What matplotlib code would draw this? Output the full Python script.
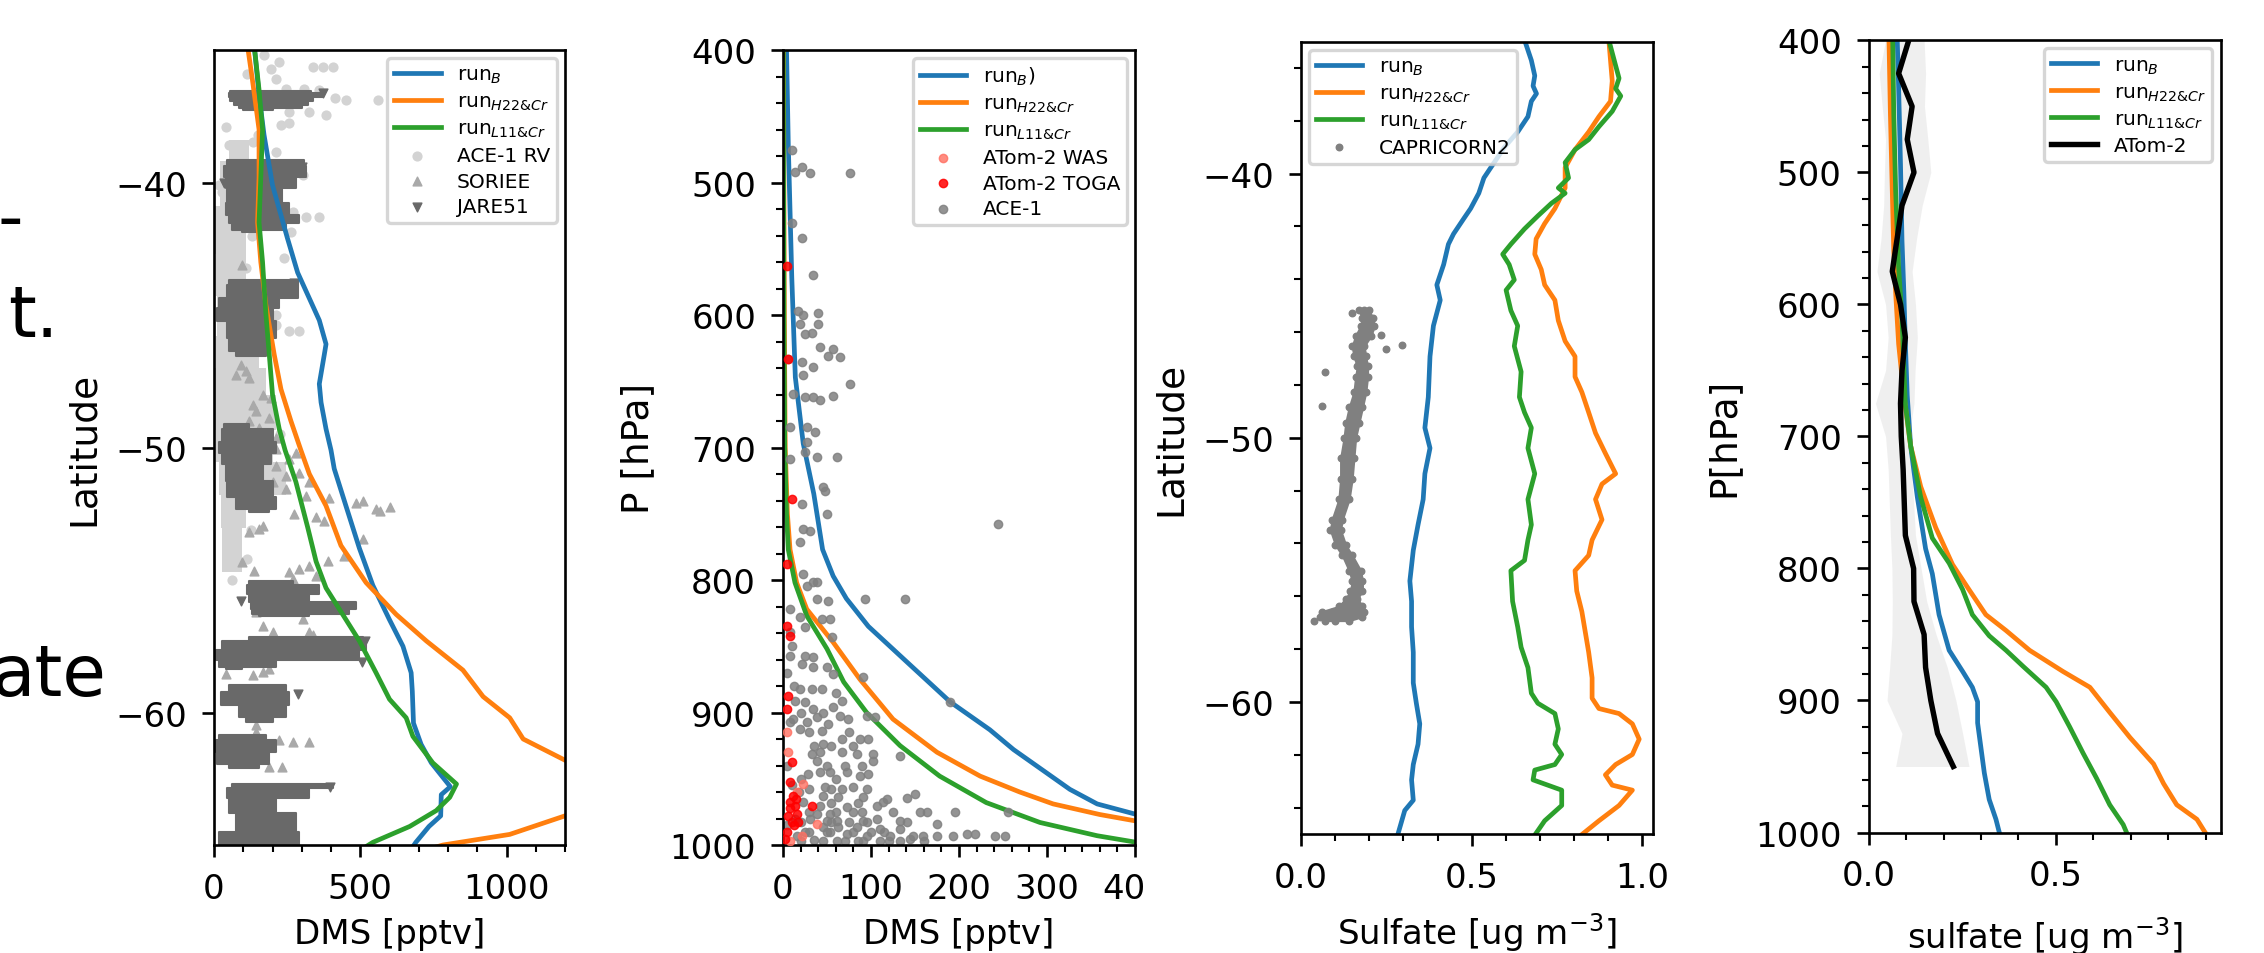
"""
DMS and sulfate profiles over the Southern Ocean: model runs against
ship and aircraft observations, four panels side by side.
"""
import matplotlib
matplotlib.use('Agg')
import matplotlib.pyplot as plt
from matplotlib.ticker import MultipleLocator
from matplotlib.patches import Rectangle

C_B = '#1f77b4'
C_H = '#ff7f0e'
C_L = '#2ca02c'

LAB_B = r'run$_{B}$'
LAB_H = r'run$_{H22&Cr}$'
LAB_L = r'run$_{L11&Cr}$'

# ---------------- panel 1: surface DMS vs latitude ----------------
p1_lat_B = [-35.0, -36.7, -38.2, -40.1, -42.1, -43.4, -45.2, -46.1, -46.5, -47.6, -48.3, -49.3,
            -50.1, -50.8, -52.2, -53.8, -55.2, -56.5, -57.5, -58.5, -59.2, -60.4, -61.2, -61.9,
            -62.8, -63.1, -63.9, -64.3, -64.9, -65.2]
p1_dms_B = [139, 154, 171, 200, 251, 286, 360, 383, 377, 360, 366, 383,
            400, 411, 451, 497, 543, 600, 646, 674, 678, 682, 708, 743,
            808, 777, 775, 735, 690, 672]

p1_lat_H = [-34.8, -36.1, -38.0, -39.8, -41.5, -43.0, -44.6, -46.5, -47.8, -49.0, -50.1, -51.0,
            -52.2, -53.7, -55.1, -56.3, -57.3, -58.4, -59.4, -60.2, -61.0, -61.8, -62.5, -63.3,
            -63.9, -64.6, -65.0, -65.2]
p1_dms_H = [114, 131, 154, 154, 149, 160, 177, 206, 229, 263, 297, 326,
            383, 434, 520, 623, 726, 851, 920, 1011, 1057, 1200, 1320, 1300,
            1200, 1011, 783, 720]

p1_lat_L = [-34.8, -36.5, -38.0, -39.8, -41.5, -43.0, -44.9, -46.5, -48.0, -49.3, -50.1, -51.3,
            -53.0, -54.3, -55.3, -56.3, -57.3, -58.5, -59.5, -60.2, -60.9, -61.9, -62.7, -63.2,
            -63.7, -64.3, -64.9, -65.2]
p1_dms_L = [137, 154, 166, 160, 154, 166, 177, 189, 200, 223, 243, 280,
            320, 349, 383, 440, 497, 554, 600, 657, 680, 748, 829, 806,
            760, 669, 543, 500]

# ACE-1 research vessel: dense core (lat, low, high) and loose points
ace1rv_core_lat = [-38.4, -40.0, -41.8, -43.6, -45.0, -46.6, -47.4, -48.6, -50.1, -51.0, -52.6, -53.5, -54.7]
ace1rv_core_lo = [50, 20, 0, 6, 10, 6, 0, 0, 6, 17, 23, 29, 29]
ace1rv_core_hi = [120, 100, 110, 110, 130, 154, 177, 211, 200, 245, 109, 97, 97]
ace1rv_lat = [-35.64, -35.64, -35.64, -35.89, -35.70, -36.08, -36.46, -36.46, -36.52, -36.83, -36.90,
              -36.90, -37.33, -37.33, -37.46, -37.84, -37.77, -38.84, -38.71, -38.84, -39.72, -39.72,
              -40.09, -40.34, -41.60, -41.10, -41.29, -41.29, -41.85, -42.35, -42.48, -42.85, -43.23,
              -42.85, -43.61, -45.36, -45.61, -45.61, -44.99, -46.87, -47.37, -48.00, -48.63, -48.00,
              -35.20, -35.45, -38.46, -38.59, -37.90, -38.20, -42.00, -44.30, -46.20, -49.50, -51.60,
              -53.10, -54.20, -55.00]
ace1rv_dms = [337, 372, 406, 114, 194, 212, 246, 309, 360, 412, 452,
              560, 257, 326, 383, 229, 257, 69, 97, 212, 252, 303,
              17, 29, 46, 269, 314, 360, 263, 74, 17, 86, 109,
              240, 29, 212, 257, 292, 212, 29, 52, 86, 40, 132,
              172, 223, 132, 52, 40, 150, 130, 140, 175, 225, 150,
              125, 112, 60]

# SORIEE cruise
soriee_lat = [-43.10, -46.87, -47.25, -47.37, -48.00, -48.63, -48.88, -49.63, -47.12, -49.25, -49.63,
              -48.38, -49.76, -49.00, -48.13,
              -50.07, -50.44, -50.95, -51.32, -51.57, -51.89, -52.08, -52.01, -52.33, -52.26, -52.39,
              -52.51, -52.64, -52.76, -52.95, -53.20, -53.08, -53.45, -54.08, -54.27, -54.65, -54.33,
              -54.71, -54.58, -54.46, -54.84, -54.96, -56.21, -56.72, -56.97, -56.47, -56.97, -57.09,
              -58.54, -58.60, -58.47, -58.35, -60.48, -60.73, -61.05, -61.11, -61.11, -62.05, -62.05,
              -50.70, -51.07, -50.19, -51.82, -51.32]
soriee_dms = [97, 92, 74, 120, 166, 143, 189, 212, 109, 154, 97,
              132, 177, 120, 194,
              212, 257, 292, 326, 246, 394, 486, 509, 554, 600, 566,
              274, 349, 377, 166, 120, 154, 509, 446, 389, 137, 97,
              257, 292, 326, 349, 269, 143, 166, 200, 303, 326, 337,
              40, 132, 166, 189, 143, 143, 223, 269, 326, 189, 234,
              212, 246, 280, 314, 200]

# JARE51 cruise: each band of dense samples as (lat, low, high)
jare51_bands = [
    ([-36.55, -36.70, -36.85, -37.00, -37.15, -37.25], [55, 50, 55, 70, 85, 100], [330, 372, 340, 320, 300, 200]),
    ([-39.15, -39.60, -39.97, -40.47, -41.10, -41.35, -41.72, -41.85], [46, 34, 40, 46, 40, 51, 63, 97],
     [309, 314, 280, 234, 257, 292, 246, 160]),
    ([-43.67, -44.10, -44.61, -44.86, -45.61, -46.12, -46.56], [51, 46, 17, 11, 46, 51, 74],
     [286, 286, 223, 200, 211, 189, 177]),
    ([-49.13, -49.50, -50.07, -50.32, -50.95, -51.57, -52.20, -52.45], [34, 29, 17, 29, 40, 46, 74, 120],
     [120, 200, 211, 194, 166, 200, 211, 189]),
    ([-55.02, -55.34, -55.71, -55.96, -56.21, -56.34], [120, 114, 120, 126, 131, 154], [269, 360, 326, 486, 463, 326]),
    ([-57.16, -57.47, -57.85, -58.22, -58.35], [120, 29, 6, 17, 40], [509, 520, 497, 211, 97]),
    ([-58.98, -59.48, -59.98, -60.36], [51, 23, 86, 109], [246, 257, 246, 200]),
    ([-60.86, -61.23, -61.74, -62.11], [17, 6, 11, 51], [177, 211, 189, 154]),
    ([-62.68, -62.99, -63.49, -64.12, -64.93, -65.20], [63, 46, 51, 74, 17, 20], [406, 326, 211, 280, 292, 290]),
]
jare51_lat = [-55.78, -59.29, -36.62, -39.40, -43.80, -57.30, -62.80, -40.00, -58.10]
jare51_dms = [92, 286, 372, 300, 275, 515, 395, 35, 505]

# ---------------- panel 2: DMS vs pressure ----------------
p2_p_B = [400, 471, 572, 647, 697, 735, 777, 797, 814, 835, 862, 892, 913, 928, 958, 969, 977]
p2_dms_B = [4, 6, 10, 14, 23, 35, 45, 57, 72, 97, 141, 190, 235, 262, 326, 357, 402]
p2_p_H = [400, 600, 700, 750, 777, 802, 822, 847, 875, 905, 930, 948, 960, 969, 977, 982]
p2_dms_H = [0.5, 1.5, 2.5, 5, 8, 15.5, 27, 57, 87.5, 125, 175, 224, 269, 307, 360, 402]
p2_p_L = [400, 600, 700, 750, 777, 802, 827, 852, 877, 900, 925, 948, 968, 983, 993, 998]
p2_dms_L = [0.3, 1, 2, 4, 6, 13.6, 27, 50, 69, 95, 133, 178, 231, 292, 357, 402]

atom_was_p = [930.1, 954.0, 984.2, 993.0, 915.0, 996.8, 960.3]
atom_was_dms = [6.1, 23.1, 38.3, 21.2, 4.2, 8.0, 15.5]
atom_toga_p = [633.3, 739.0, 562.8, 787.9, 842.0, 834.5, 887.3, 897.4, 937.6, 952.7, 970.3, 967.8,
               977.9, 982.9, 982.9, 970.3, 995.5, 962.8, 976.6, 985.0, 972.0, 965.0, 990.0]
atom_toga_dms = [6.1, 9.9, 4.2, 4.2, 8.0, 4.2, 6.1, 4.2, 9.9, 8.0, 13.6, 8.0,
                 6.1, 9.9, 17.4, 32.6, 2.3, 11.7, 15.5, 12.0, 8.0, 15.0, 5.0]

ace1_p = [475.5, 492.4, 488.6, 493.1, 493.1, 530.6, 541.9, 569.9, 596.8, 599.8, 598.8, 606.8, 606.8,
          614.4, 613.9, 624.5, 625.7, 630.7, 632.0, 633.3, 635.8, 639.6, 645.1, 652.1, 659.7, 662.2,
          662.2, 664.2, 660.9, 684.8, 684.8, 688.6, 696.2, 707.5, 707.5, 708.7, 703.7, 730.1, 732.6,
          742.7, 750.2, 761.6, 762.8, 771.6, 757.8,
          795.5, 801.8, 804.3, 801.8, 815.6, 814.3, 814.3, 814.3, 821.9, 828.2, 829.4, 829.4, 835.7,
          839.5, 843.3, 849.6, 857.1, 857.1, 858.4, 863.4, 865.9, 865.9, 871.0, 873.0, 882.3, 882.3,
          882.3, 891.1, 891.1, 892.3, 897.4, 896.1, 904.9, 907.4, 903.7, 902.4, 904.9, 902.4, 903.7,
          908.7, 907.4, 912.5, 913.7, 920.0, 920.0, 920.0, 923.8, 931.3, 930.1, 930.1, 931.3, 931.3,
          932.6, 936.4, 936.4, 946.4, 945.2, 945.2, 945.2, 947.7, 946.4, 956.5, 957.8, 956.5, 962.8,
          964.0, 964.0, 965.3, 964.8, 961.5, 967.8, 970.3, 971.6, 970.3, 967.8, 976.6, 976.6, 975.4,
          975.4, 975.4, 975.4, 975.4, 975.4, 980.4, 980.4, 981.7, 981.7, 981.7, 980.4, 981.7, 982.9,
          984.2, 986.7, 986.7, 986.7, 988.0, 988.0, 991.7, 993.0, 993.0, 993.0, 993.0, 993.0, 993.0,
          991.7, 991.7, 993.0, 993.0, 993.0, 990.5, 996.8, 996.8, 996.8, 996.8, 995.5, 892.3,
          870.0, 880.0, 940.0, 955.0, 985.0, 960.0, 990.0, 996.0,
          997.0, 997.0, 997.0, 997.0, 997.0, 997.0, 990.0, 990.0, 990.0, 990.0, 990.0, 983.0, 983.0,
          983.0, 983.0, 975.0, 975.0, 975.0, 968.0, 968.0, 958.0, 958.0, 958.0, 950.0, 950.0, 940.0,
          940.0, 940.0, 925.0, 925.0, 925.0, 915.0, 915.0, 900.0, 900.0, 885.0]
ace1_dms = [9.9, 13.6, 21.2, 30.7, 76.1, 9.9, 21.2, 34.5, 17.4, 23.1, 40.2, 19.3, 40.2,
            25.0, 32.6, 42.0, 57.2, 51.5, 64.8, 6.1, 21.2, 34.5, 23.1, 76.1, 11.7, 25.0,
            34.5, 42.0, 57.2, 8.0, 26.9, 36.4, 26.9, 38.3, 61.0, 8.0, 25.0, 45.8, 47.7,
            21.2, 49.6, 23.1, 30.7, 19.3, 244.7,
            23.1, 34.5, 26.9, 38.3, 51.5, 38.3, 93.2, 138.6, 8.0, 19.3, 44.0, 53.4, 25.0,
            8.0, 55.3, 9.9, 8.0, 25.0, 34.5, 21.2, 34.5, 49.6, 57.2, 91.3, 19.3, 32.6,
            44.0, 66.7, 13.6, 25.0, 34.5, 57.2, 11.7, 26.9, 38.3, 64.8, 74.2, 95.1, 104.5,
            51.5, 8.0, 19.3, 44.0, 66.7, 87.5, 97.0, 45.8, 32.6, 42.0, 66.7, 83.7, 102.6,
            133.0, 38.3, 102.6, 28.8, 42.0, 53.4, 72.4, 87.5, 97.0, 47.7, 66.7, 79.9, 45.8,
            62.9, 91.3, 117.8, 140.5, 150.0, 23.1, 42.0, 72.4, 106.4, 114.0, 38.3, 53.4, 79.9,
            125.4, 155.7, 163.3, 195.5, 256.1, 13.6, 30.7, 49.6, 61.0, 91.3, 106.4, 133.0, 140.5,
            174.6, 45.8, 62.9, 83.7, 110.2, 133.0, 72.4, 95.1, 121.6, 148.1, 159.5, 174.6, 193.6,
            208.7, 218.2, 240.9, 252.3, 15.5, 53.4, 61.0, 91.3, 110.2, 133.0, 144.3, 189.8,
            5.0, 12.0, 5.0, 10.0, 5.0, 18.0, 25.0, 35.0,
            20.0, 45.0, 70.0, 85.0, 120.0, 160.0, 30.0, 50.0, 80.0, 100.0, 115.0, 20.0, 55.0,
            75.0, 95.0, 30.0, 60.0, 90.0, 55.0, 85.0, 30.0, 55.0, 95.0, 20.0, 60.0, 50.0,
            70.0, 90.0, 35.0, 55.0, 80.0, 30.0, 75.0, 45.0, 20.0, 60.0]

# ---------------- panel 3: surface sulfate vs latitude ----------------
p3_lat_B = [-34.94, -35.71, -36.29, -36.68, -36.97, -37.26, -37.84, -38.42, -39.00, -39.58, -40.16,
            -40.74, -41.32, -41.70, -42.28, -42.67, -43.44, -44.21, -44.79, -45.76, -46.92, -48.46,
            -49.62, -50.39, -51.36, -52.33, -53.29, -54.26, -55.42, -56.19, -57.16, -58.12, -59.28,
            -60.05, -60.83, -61.60, -62.37, -62.95, -63.72, -64.11, -65.23]
p3_so4_B = [0.655, 0.675, 0.685, 0.680, 0.690, 0.675, 0.665, 0.635, 0.596, 0.566, 0.536,
            0.521, 0.497, 0.477, 0.447, 0.432, 0.418, 0.398, 0.408, 0.388, 0.378, 0.373,
            0.363, 0.378, 0.363, 0.358, 0.343, 0.329, 0.319, 0.324, 0.324, 0.329, 0.329,
            0.338, 0.348, 0.343, 0.329, 0.324, 0.329, 0.304, 0.279]

p3_lat_H = [-34.94, -36.49, -37.26, -37.84, -38.42, -39.09, -39.77, -40.54, -41.32, -41.89, -42.47,
            -43.05, -43.63, -44.21, -44.79, -45.56, -46.34, -46.92, -47.69, -48.27, -49.04, -49.82,
            -50.59, -51.36, -51.75, -52.33, -53.10, -53.87, -54.45, -55.03, -55.80, -56.58, -57.35,
            -58.12, -59.09, -59.86, -60.25, -60.44, -60.83, -61.41, -61.99, -62.37, -62.76, -63.15,
            -63.34, -63.92, -64.50, -65.23]
p3_so4_H = [0.902, 0.912, 0.907, 0.873, 0.843, 0.803, 0.774, 0.774, 0.744, 0.714, 0.689,
            0.685, 0.704, 0.714, 0.744, 0.754, 0.774, 0.803, 0.803, 0.823, 0.843, 0.863,
            0.892, 0.922, 0.882, 0.863, 0.882, 0.853, 0.843, 0.803, 0.808, 0.823, 0.833,
            0.843, 0.853, 0.853, 0.873, 0.932, 0.971, 0.991, 0.971, 0.922, 0.892, 0.912,
            0.971, 0.932, 0.873, 0.803]

p3_lat_L = [-34.94, -35.91, -36.39, -36.78, -37.06, -37.64, -38.22, -38.71, -39.09, -39.58, -40.16,
            -40.54, -40.74, -41.12, -41.60, -42.09, -42.67, -43.05, -43.44, -44.02, -44.41, -45.18,
            -45.76, -46.53, -47.50, -48.46, -49.04, -49.62, -50.39, -51.36, -52.33, -53.29, -53.87,
            -54.64, -55.03, -56.19, -57.16, -57.93, -58.70, -59.67, -60.05, -60.44, -61.02, -61.60,
            -61.99, -62.37, -62.58, -62.95, -63.34, -63.92, -64.50, -65.23]
p3_so4_L = [0.902, 0.922, 0.932, 0.922, 0.937, 0.912, 0.873, 0.843, 0.803, 0.774, 0.784,
            0.754, 0.774, 0.734, 0.694, 0.655, 0.615, 0.591, 0.610, 0.625, 0.601, 0.615,
            0.635, 0.625, 0.645, 0.640, 0.655, 0.675, 0.665, 0.685, 0.665, 0.675, 0.665,
            0.655, 0.615, 0.620, 0.635, 0.645, 0.665, 0.675, 0.694, 0.744, 0.754, 0.744,
            0.764, 0.744, 0.685, 0.680, 0.764, 0.764, 0.714, 0.675]

# CAPRICORN2 voyage: per-latitude spread of the samples plus loose points
cap_lat = [-45.18, -45.47, -45.76, -46.14, -46.53, -46.92, -47.30, -47.69, -48.27, -48.85, -49.43,
           -50.01, -50.78, -51.55, -52.33, -53.10, -53.49, -54.06, -54.45, -55.03, -55.42, -55.80,
           -56.09, -56.38, -56.58, -56.77, -56.92]
cap_left = [0.170, 0.180, 0.175, 0.160, 0.150, 0.155, 0.165, 0.160, 0.155, 0.141, 0.131,
            0.126, 0.116, 0.116, 0.111, 0.091, 0.086, 0.101, 0.121, 0.141, 0.150, 0.145,
            0.131, 0.111, 0.061, 0.056, 0.071]
cap_mid = [0.185, 0.195, 0.190, 0.185, 0.170, 0.170, 0.180, 0.175, 0.170, 0.160, 0.150,
           0.145, 0.136, 0.131, 0.126, 0.106, 0.101, 0.116, 0.136, 0.155, 0.170, 0.160,
           0.145, 0.131, 0.121, 0.111, 0.101]
cap_right = [0.200, 0.210, 0.215, 0.205, 0.185, 0.190, 0.195, 0.195, 0.190, 0.180, 0.170,
             0.160, 0.155, 0.150, 0.141, 0.121, 0.116, 0.131, 0.150, 0.175, 0.180, 0.180,
             0.165, 0.180, 0.185, 0.180, 0.141]
cap_out_lat = [-45.28, -46.11, -46.63, -46.49, -47.50, -48.81, -56.92, -56.58, -56.77]
cap_out_so4 = [0.150, 0.235, 0.249, 0.297, 0.069, 0.061, 0.037, 0.091, 0.081]

# ---------------- panel 4: sulfate vs pressure ----------------
p4_p_B = [397, 436, 494, 552, 591, 630, 669, 707, 746, 785, 804, 835, 862, 878, 890, 901, 917, 936,
          955, 975, 990, 1000]
p4_so4_B = [0.076, 0.080, 0.085, 0.089, 0.094, 0.098, 0.103, 0.112, 0.130, 0.152, 0.170, 0.188,
            0.215, 0.251, 0.277, 0.291, 0.291, 0.300, 0.309, 0.322, 0.340, 0.349]
p4_p_H = [397, 456, 514, 560, 591, 630, 669, 707, 738, 769, 797, 816, 835, 847, 862, 878, 890, 909,
          928, 948, 963, 979, 990, 1000]
p4_so4_H = [0.054, 0.058, 0.063, 0.067, 0.072, 0.080, 0.094, 0.112, 0.139, 0.179, 0.224, 0.268,
            0.313, 0.367, 0.430, 0.519, 0.591, 0.644, 0.698, 0.761, 0.788, 0.823, 0.877, 0.899]
p4_p_L = [397, 456, 514, 572, 611, 649, 676, 707, 746, 777, 796, 816, 835, 851, 862, 874, 890, 901,
          920, 940, 959, 979, 994, 1000]
p4_so4_L = [0.064, 0.067, 0.072, 0.080, 0.089, 0.094, 0.098, 0.112, 0.139, 0.170, 0.215, 0.251,
            0.277, 0.322, 0.367, 0.412, 0.474, 0.501, 0.537, 0.573, 0.609, 0.644, 0.680, 0.689]

atom_p = [400, 425, 450, 475, 500, 525, 550, 575, 600, 625, 650, 675, 700, 725, 750, 775, 800, 825,
          850, 875, 900, 925, 950]
atom_so4 = [0.107, 0.080, 0.116, 0.103, 0.121, 0.089, 0.076, 0.063, 0.085, 0.098, 0.089, 0.085,
            0.087, 0.092, 0.095, 0.098, 0.120, 0.121, 0.148, 0.152, 0.166, 0.184, 0.226]
atom_lo = [0.045, 0.028, 0.036, 0.045, 0.042, 0.040, 0.033, 0.022, 0.045, 0.052, 0.045, 0.018,
           0.045, 0.052, 0.055, 0.058, 0.062, 0.063, 0.062, 0.056, 0.049, 0.089, 0.072]
atom_hi = [0.148, 0.152, 0.149, 0.158, 0.166, 0.143, 0.128, 0.116, 0.125, 0.130, 0.124, 0.121,
           0.108, 0.114, 0.120, 0.125, 0.140, 0.155, 0.180, 0.210, 0.233, 0.251, 0.268]


W, H = 2264, 954
LW = 3.4
TICK_FS = 24.5
YLAB_FS = 27


def px_axes(fig, x0, y0, x1, y1):
    """Add axes from pixel corners (top-left origin)."""
    return fig.add_axes([x0 / W, 1 - y1 / H, (x1 - x0) / W, (y1 - y0) / H])


def style(ax, xminor=None, yminor=None):
    ax.tick_params(which='major', length=8.4, width=1.9, pad=11, labelsize=TICK_FS)
    ax.tick_params(which='minor', length=4.8, width=1.5)
    for sp in ax.spines.values():
        sp.set_linewidth(1.9)
    if xminor:
        ax.xaxis.set_minor_locator(MultipleLocator(xminor))
    if yminor:
        ax.yaxis.set_minor_locator(MultipleLocator(yminor))


def add_legend(ax, loc, handles=None, labels=None):
    if handles is None:
        handles, labels = ax.get_legend_handles_labels()
    leg = ax.legend(handles, labels, loc=loc, fontsize=14.5, handlelength=2.3, borderpad=0.35,
                    labelspacing=0.33, borderaxespad=0.4, framealpha=0.8)
    leg.get_frame().set_linewidth(2.4)
    return leg


def main():
    plt.rcParams['font.family'] = ['DejaVu Sans']
    fig = plt.figure(figsize=(W / 100, H / 100), dpi=100)

    # panel 1
    ax1 = px_axes(fig, 214, 51, 565, 846)
    ax1.fill_betweenx(ace1rv_core_lat, ace1rv_core_lo, ace1rv_core_hi, step='mid',
                      color='lightgrey', lw=0)
    ax1.scatter(ace1rv_dms, ace1rv_lat, s=40, color='lightgrey', label='ACE-1 RV')
    ax1.scatter(soriee_dms, soriee_lat, s=40, marker='^', color='darkgrey', label='SORIEE')
    for lat, lo, hi in jare51_bands:
        ax1.fill_betweenx(lat, lo, hi, step='mid', color='dimgrey', lw=1.5)
    ax1.scatter(jare51_dms, jare51_lat, s=40, marker='v', color='dimgrey', label='JARE51')
    ax1.plot(p1_dms_B, p1_lat_B, color=C_B, lw=LW, label=LAB_B)
    ax1.plot(p1_dms_H, p1_lat_H, color=C_H, lw=LW, label=LAB_H)
    ax1.plot(p1_dms_L, p1_lat_L, color=C_L, lw=LW, label=LAB_L)
    ax1.set_xlim(0, 1200)
    ax1.set_ylim(-65, -35)
    ax1.set_xticks([0, 500, 1000])
    ax1.set_yticks([-60, -50, -40])
    style(ax1, xminor=100)
    ax1.set_xlabel('DMS [pptv]', fontsize=TICK_FS, labelpad=9)
    ax1.set_ylabel('Latitude', fontsize=YLAB_FS, labelpad=10)
    h, l = ax1.get_legend_handles_labels()
    order = [3, 4, 5, 0, 1, 2]
    add_legend(ax1, 'upper right', [h[i] for i in order], [l[i] for i in order])

    # panel 2
    ax2 = px_axes(fig, 783, 51, 1135, 846)
    ax2.plot(p2_dms_B, p2_p_B, color=C_B, lw=LW, label=r'run$_{B}$)')
    ax2.plot(p2_dms_H, p2_p_H, color=C_H, lw=LW, label=LAB_H)
    ax2.plot(p2_dms_L, p2_p_L, color=C_L, lw=LW, label=LAB_L)
    ax2.scatter(atom_was_dms, atom_was_p, s=36, color='#ff6f61', alpha=0.8, label='ATom-2 WAS', zorder=3)
    ax2.scatter(atom_toga_dms, atom_toga_p, s=36, color='red', alpha=0.85, label='ATom-2 TOGA', zorder=3)
    ax2.scatter(ace1_dms, ace1_p, s=36, color='grey', alpha=0.85, label='ACE-1', zorder=2)
    ax2.set_xlim(0, 400)
    ax2.set_ylim(1000, 400)
    ax2.set_xticks([0, 100, 200, 300, 400])
    ax2.set_yticks([400, 500, 600, 700, 800, 900, 1000])
    style(ax2, xminor=20, yminor=20)
    ax2.set_xlabel('DMS [pptv]', fontsize=TICK_FS, labelpad=9)
    ax2.set_ylabel('P [hPa]', fontsize=YLAB_FS, labelpad=10)
    add_legend(ax2, 'upper right')

    # panel 3
    ax3 = px_axes(fig, 1301, 42.6, 1652.5, 835)
    ax3.plot(p3_so4_B, p3_lat_B, color=C_B, lw=LW, label=LAB_B)
    ax3.plot(p3_so4_H, p3_lat_H, color=C_H, lw=LW, label=LAB_H)
    ax3.plot(p3_so4_L, p3_lat_L, color=C_L, lw=LW, label=LAB_L)
    ax3.fill_betweenx(cap_lat, cap_left, cap_right, color='grey', lw=1.5)
    ax3.scatter(cap_left + cap_mid + cap_right, cap_lat * 3, s=22, color='grey')
    ax3.scatter(cap_out_so4, cap_out_lat, s=22, color='grey', label='CAPRICORN2')
    ax3.set_xlim(0, 1.03)
    ax3.set_ylim(-65, -35)
    ax3.set_xticks([0.0, 0.5, 1.0])
    ax3.set_yticks([-60, -50, -40])
    style(ax3, xminor=0.1, yminor=2)
    ax3.set_xlabel('Sulfate [ug m$^{-3}$]', fontsize=TICK_FS, labelpad=12)
    ax3.set_ylabel('Latitude', fontsize=YLAB_FS, labelpad=10)
    add_legend(ax3, 'upper left')

    # panel 4
    ax4 = px_axes(fig, 1868.7, 41.4, 2220.5, 833.5)
    ax4.fill_betweenx(atom_p, atom_lo, atom_hi, color='lightgrey', alpha=0.35, lw=0)
    ax4.plot(p4_so4_B, p4_p_B, color=C_B, lw=LW, label=LAB_B)
    ax4.plot(p4_so4_H, p4_p_H, color=C_H, lw=LW, label=LAB_H)
    ax4.plot(p4_so4_L, p4_p_L, color=C_L, lw=LW, label=LAB_L)
    ax4.plot(atom_so4, atom_p, color='black', lw=3.9, label='ATom-2')
    ax4.set_xlim(0, 0.94)
    ax4.set_ylim(1000, 400)
    ax4.set_xticks([0.0, 0.5])
    ax4.set_yticks([400, 500, 600, 700, 800, 900, 1000])
    style(ax4, xminor=0.1, yminor=20)
    ax4.set_xlabel('sulfate [ug m$^{-3}$]', fontsize=TICK_FS, labelpad=16)
    ax4.set_ylabel('P[hPa]', fontsize=YLAB_FS, labelpad=10)
    add_legend(ax4, 'upper right')

    # trim the last DMS tick label at the panel edge
    fig.add_artist(Rectangle((1143 / W, 1 - 915 / H), 35 / W, 65 / H, transform=fig.transFigure,
                             facecolor='white', edgecolor='none', zorder=10))

    # tails of the slide text running in from the left
    fig.text(23.6 / W, 1 - 241 / H, '-', fontsize=51, ha='right', va='baseline')
    fig.text(58 / W, 1 - 337 / H, 't.', fontsize=51, ha='right', va='baseline')
    fig.text(107 / W, 1 - 696 / H, 'ate', fontsize=51, ha='right', va='baseline')

    fig.savefig('out.png', dpi=100)
    plt.close(fig)


if __name__ == '__main__':
    main()
